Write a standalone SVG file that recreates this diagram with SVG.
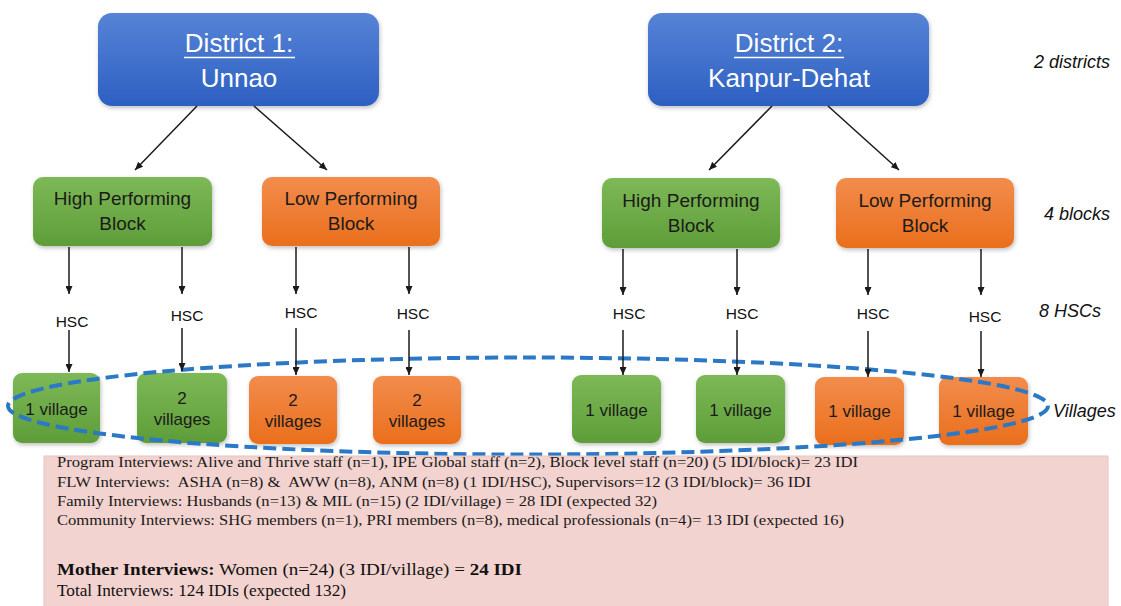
<svg xmlns="http://www.w3.org/2000/svg" width="1121" height="606" viewBox="0 0 1121 606">
<defs>
  <linearGradient id="gBlue" x1="0" y1="0" x2="0" y2="1">
    <stop offset="0" stop-color="#5683d6"/>
    <stop offset="1" stop-color="#2d60c2"/>
  </linearGradient>
  <linearGradient id="gGreen" x1="0" y1="0" x2="0" y2="1">
    <stop offset="0" stop-color="#7db957"/>
    <stop offset="1" stop-color="#5e9d38"/>
  </linearGradient>
  <linearGradient id="gOrange" x1="0" y1="0" x2="0" y2="1">
    <stop offset="0" stop-color="#f28c4c"/>
    <stop offset="1" stop-color="#ea6f1c"/>
  </linearGradient>
  <filter id="sh" x="-10%" y="-10%" width="130%" height="140%">
    <feDropShadow dx="1" dy="2" stdDeviation="2" flood-color="#000" flood-opacity="0.25"/>
  </filter>
  <marker id="ah" viewBox="0 0 8 7" markerWidth="8" markerHeight="7" refX="8" refY="3.5" orient="auto" markerUnits="userSpaceOnUse">
    <path d="M0,0 L8,3.5 L0,7 z" fill="#1a1a1a"/>
  </marker>
</defs>
<style>
  .dist { fill: url(#gBlue); filter: url(#sh); }
  .green { fill: url(#gGreen); filter: url(#sh); }
  .orange { fill: url(#gOrange); filter: url(#sh); }
  .dt { font-family: "Liberation Sans", Arial, sans-serif; font-size: 26px; fill: #ffffff; text-anchor: middle; }
  .bt { font-family: "Liberation Sans", Arial, sans-serif; font-size: 19px; fill: #1b1b1b; text-anchor: middle; }
  .vt { font-family: "Liberation Sans", Arial, sans-serif; font-size: 17px; fill: #1b1b1b; text-anchor: middle; }
  .hsc { font-family: "Liberation Sans", Arial, sans-serif; font-size: 15.5px; fill: #111111; text-anchor: middle; }
  .side { font-family: "Liberation Sans", Arial, sans-serif; font-size: 18px; font-style: italic; fill: #111111; }
  .conn line { stroke: #1a1a1a; stroke-width: 1.5; marker-end: url(#ah); }
  .tx { font-family: "Liberation Serif", "Times New Roman", serif; font-size: 15.5px; fill: #1a1a1a; white-space: pre; }
  .tb { font-family: "Liberation Serif", "Times New Roman", serif; font-size: 17px; fill: #111111; white-space: pre; }
</style>

<rect width="1121" height="606" fill="#ffffff"/>

<!-- Districts -->
<g id="district1">
  <rect class="dist" x="98" y="13" width="281" height="93" rx="14"/>
  <text class="dt" x="239" y="52">District 1:</text>
  <line x1="184" y1="57.5" x2="295" y2="57.5" stroke="#ffffff" stroke-width="1.5"/>
  <text class="dt" x="239" y="87">Unnao</text>
</g>
<g id="district2">
  <rect class="dist" x="648" y="13" width="281" height="93" rx="14"/>
  <text class="dt" x="789" y="52">District 2:</text>
  <line x1="734" y1="57.5" x2="844" y2="57.5" stroke="#ffffff" stroke-width="1.5"/>
  <text class="dt" x="789" y="87">Kanpur-Dehat</text>
</g>

<!-- Blocks -->
<g id="block-hp1">
  <rect class="green" x="33" y="177" width="179" height="69" rx="10"/>
  <text class="bt" x="122.5" y="205">High Performing</text>
  <text class="bt" x="122.5" y="230">Block</text>
</g>
<g id="block-lp1">
  <rect class="orange" x="262" y="177" width="178" height="69" rx="10"/>
  <text class="bt" x="351" y="205">Low Performing</text>
  <text class="bt" x="351" y="230">Block</text>
</g>
<g id="block-hp2">
  <rect class="green" x="602" y="178" width="178" height="70" rx="10"/>
  <text class="bt" x="691" y="207">High Performing</text>
  <text class="bt" x="691" y="232">Block</text>
</g>
<g id="block-lp2">
  <rect class="orange" x="836" y="178" width="178" height="70" rx="10"/>
  <text class="bt" x="925" y="207">Low Performing</text>
  <text class="bt" x="925" y="232">Block</text>
</g>

<!-- HSC labels -->
<g id="hsc1"><text class="hsc" x="72" y="327">HSC</text></g>
<g id="hsc2"><text class="hsc" x="187" y="321">HSC</text></g>
<g id="hsc3"><text class="hsc" x="301" y="318">HSC</text></g>
<g id="hsc4"><text class="hsc" x="413" y="319">HSC</text></g>
<g id="hsc5"><text class="hsc" x="629" y="319">HSC</text></g>
<g id="hsc6"><text class="hsc" x="742" y="319">HSC</text></g>
<g id="hsc7"><text class="hsc" x="873" y="319">HSC</text></g>
<g id="hsc8"><text class="hsc" x="985" y="322">HSC</text></g>

<!-- Villages -->
<g id="village1">
  <rect class="green" x="13" y="373" width="87" height="70" rx="9"/>
  <text class="vt" x="56.5" y="415">1 village</text>
</g>
<g id="village2">
  <rect class="green" x="137" y="373" width="90" height="70" rx="9"/>
  <text class="vt" x="182" y="404">2</text>
  <text class="vt" x="182" y="425">villages</text>
</g>
<g id="village3">
  <rect class="orange" x="249" y="376" width="88" height="68" rx="9"/>
  <text class="vt" x="293" y="406">2</text>
  <text class="vt" x="293" y="427">villages</text>
</g>
<g id="village4">
  <rect class="orange" x="373" y="376" width="88" height="68" rx="9"/>
  <text class="vt" x="417" y="406">2</text>
  <text class="vt" x="417" y="427">villages</text>
</g>
<g id="village5">
  <rect class="green" x="572" y="375" width="89" height="68" rx="9"/>
  <text class="vt" x="616.5" y="416">1 village</text>
</g>
<g id="village6">
  <rect class="green" x="696" y="375" width="89" height="68" rx="9"/>
  <text class="vt" x="740.5" y="416">1 village</text>
</g>
<g id="village7">
  <rect class="orange" x="815" y="377" width="89" height="68" rx="9"/>
  <text class="vt" x="859.5" y="417">1 village</text>
</g>
<g id="village8">
  <rect class="orange" x="939" y="377" width="89" height="68" rx="9"/>
  <text class="vt" x="983.5" y="417">1 village</text>
</g>

<!-- Villages dashed grouping -->
<g id="villages-group">
  <ellipse cx="528" cy="406" rx="520" ry="48.5" fill="none" stroke="#2a78c6" stroke-width="4" stroke-dasharray="13 6"/>
</g>

<!-- Connectors -->
<g id="connectors" class="conn">
  <line x1="197" y1="106" x2="135" y2="170"/>
  <line x1="254" y1="106" x2="327" y2="170"/>
  <line x1="772" y1="106" x2="709" y2="170"/>
  <line x1="828" y1="106" x2="899" y2="170"/>

  <line x1="69" y1="247" x2="69" y2="294"/>
  <line x1="182" y1="247" x2="182" y2="294"/>
  <line x1="296" y1="247" x2="296" y2="294"/>
  <line x1="409" y1="247" x2="409" y2="294"/>
  <line x1="623" y1="249" x2="623" y2="295"/>
  <line x1="737" y1="249" x2="737" y2="295"/>
  <line x1="868" y1="249" x2="868" y2="295"/>
  <line x1="981" y1="249" x2="981" y2="295"/>

  <line x1="69" y1="330" x2="69" y2="372"/>
  <line x1="182" y1="328" x2="182" y2="371"/>
  <line x1="296" y1="328" x2="296" y2="375"/>
  <line x1="409" y1="330" x2="409" y2="375"/>
  <line x1="623" y1="330" x2="623" y2="375"/>
  <line x1="737" y1="330" x2="737" y2="375"/>
  <line x1="868" y1="331" x2="868" y2="377"/>
  <line x1="981" y1="331" x2="981" y2="377"/>
</g>

<!-- Side labels -->
<g id="side-labels">
  <text class="side" x="1034" y="68">2 districts</text>
  <text class="side" x="1044" y="220">4 blocks</text>
  <text class="side" x="1039" y="317">8 HSCs</text>
  <text class="side" x="1053" y="417">Villages</text>
</g>

<!-- Interview summary -->
<g id="summary">
  <rect x="44" y="456" width="1064" height="160" fill="#f3d3cf" stroke="#e3c6c2" stroke-width="1"/>
  <text class="tx" x="57" y="467" textLength="801" lengthAdjust="spacingAndGlyphs">Program Interviews: Alive and Thrive staff (n=1), IPE Global staff (n=2), Block level staff (n=20) (5 IDI/block)= 23 IDI</text>
  <text class="tx" x="57" y="486.5" textLength="754" lengthAdjust="spacingAndGlyphs">FLW Interviews:  ASHA (n=8) &amp;  AWW (n=8), ANM (n=8) (1 IDI/HSC), Supervisors=12 (3 IDI/block)= 36 IDI</text>
  <text class="tx" x="57" y="506" textLength="600" lengthAdjust="spacingAndGlyphs">Family Interviews: Husbands (n=13) &amp; MIL (n=15) (2 IDI/village) = 28 IDI (expected 32)</text>
  <text class="tx" x="57" y="525" textLength="787" lengthAdjust="spacingAndGlyphs">Community Interviews: SHG members (n=1), PRI members (n=8), medical professionals (n=4)= 13 IDI (expected 16)</text>
  <text class="tb" x="57" y="575" textLength="465" lengthAdjust="spacingAndGlyphs"><tspan font-weight="bold">Mother Interviews:</tspan> Women (n=24) (3 IDI/village) = <tspan font-weight="bold">24 IDI</tspan></text>
  <text class="tb" x="57" y="596" textLength="289" lengthAdjust="spacingAndGlyphs">Total Interviews: 124 IDIs (expected 132)</text>
</g>
</svg>
